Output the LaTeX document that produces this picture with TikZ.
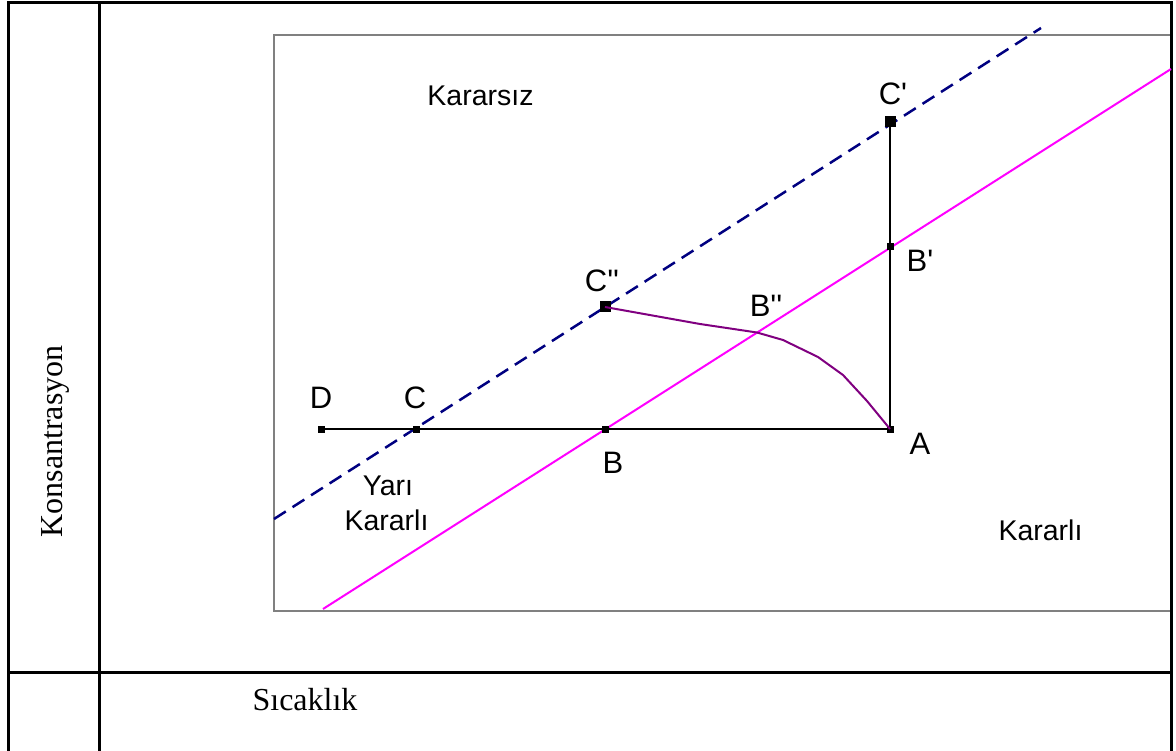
\documentclass[tikz,border=0pt]{standalone}
\usepackage{fontspec}
\setmainfont{Liberation Serif}
\setsansfont{Liberation Sans}
\usetikzlibrary{positioning}
\definecolor{linenavy}{RGB}{0, 0, 128}
\definecolor{linepink}{RGB}{255, 0, 255}
\definecolor{linepurple}{RGB}{128, 0, 128}
\definecolor{framegray}{RGB}{128, 128, 128}
\newcommand{\tick}{\textquotesingle}

\begin{document}
\begin{tikzpicture}[
    x=1pt, y=-1pt,
    frame/.style  = {line width=3pt, black},
    region/.style = {line width=2pt, color=framegray},
    pt/.style     = {rectangle, fill=black, inner sep=0pt, minimum size=7pt},
    bigpt/.style  = {pt, minimum size=11pt},
    lbl/.style    = {anchor=base, inner sep=0pt,
                     font=\fontsize{28.5}{34}\selectfont\sffamily},
    ptlbl/.style  = {lbl, font=\fontsize{31}{36}\selectfont\sffamily},
    axislbl/.style = {anchor=base, inner sep=0pt,
                     font=\fontsize{32}{38}\selectfont},
    tie/.style    = {line width=2pt, black},
    stable/.style = {line width=2pt, color=linepink},
    meta/.style   = {line width=2.5pt, color=linenavy,
                     dash pattern=on 14pt off 8pt},
    route/.style  = {line width=2pt, color=linepurple, line join=round}
  ]
  \useasboundingbox (0,0) rectangle (1176,751);

  % region box and table
  \draw[region] (274,35.5) rectangle (1171,611);
  \draw[frame] (8.5,760) |- (1171.5,3) -- (1171.5,760);
  \draw[frame] (99.5,3) -- (99.5,760);
  \draw[frame] (8.5,672.5) -- (1171.5,672.5);

  % boundary lines
  \coordinate (s0) at (323,609);
  \coordinate (s1) at (1171,69);
  \coordinate (m0) at (274,519);
  \coordinate (m1) at (1041,28);
  \draw[stable] (s0) -- (s1);
  \draw[meta]   (m0) -- (m1);

  % points
  \node[pt]    (D)   at (321,429) {};
  \node[pt]    (C)   at (416,429) {};
  \node[pt]    (B)   at (605,429) {};
  \node[pt]    (A)   at (890,429) {};
  \node[pt]    (Bp)  at (890,247) {};
  \node[bigpt] (Cp)  at (890,122) {};
  \node[bigpt] (Cpp) at (605,307) {};
  \coordinate  (Bpp) at (757,332.5);

  \draw[tie] (D.center) -- (A.center);
  \draw[tie] (A.center) -- (Cp.center);
  \draw[route] (Cpp.center) -- (700,324) -- (Bpp) -- (783,340)
               -- (818,357) -- (843,375) -- (867,401) -- (A.center);

  % labels
  \node[ptlbl] (lD)   at (321,409)   {D};
  \node[ptlbl] (lC)   at (415,409)   {C};
  \node[ptlbl] (lB)   at (613,473)   {B};
  \node[ptlbl] (lA)   at (920,454)   {A};
  \node[ptlbl] (lBp)  at (920,272)   {B\tick};
  \node[ptlbl] (lCp)  at (893,105)   {C\tick};
  \node[ptlbl] (lCpp) at (602,292)   {C\tick\tick};
  \node[ptlbl] (lBpp) at (766,317)   {B\tick\tick};
  \node[lbl] (unst) at (480.5,106) {Kararsız};
  \node[lbl] (semi) at (388,495)   {Yarı};
  \node[lbl] (semb) at (386.5,530) {Kararlı};
  \node[lbl] (stab) at (1040.5,540) {Kararlı};

  \node[axislbl] (ylab) at (62,441.5) [rotate=90] {Konsantrasyon};
  \node[axislbl] (xlab) at (305,710) {Sıcaklık};
\end{tikzpicture}
\end{document}
